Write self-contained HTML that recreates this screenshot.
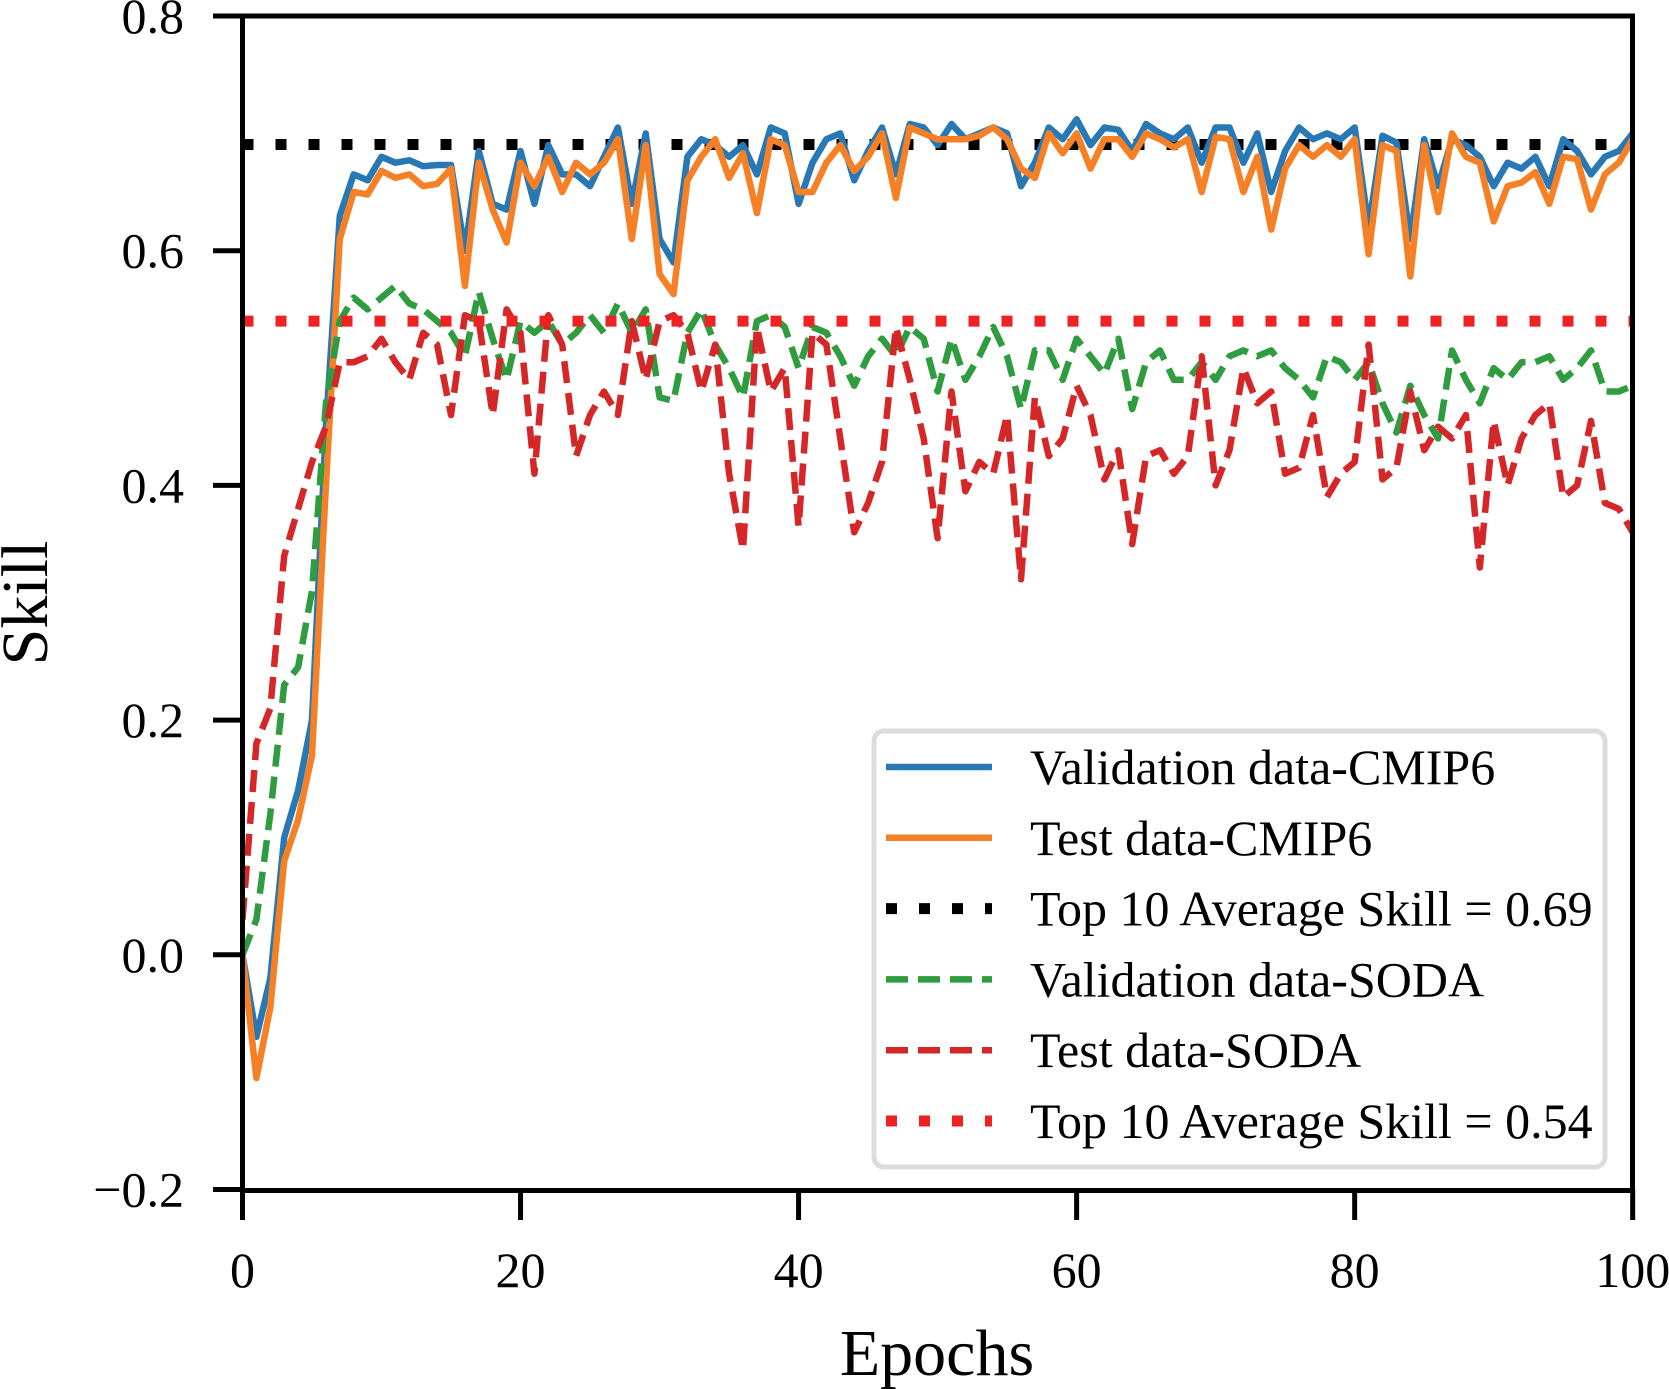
<!DOCTYPE html>
<html><head><meta charset="utf-8"><style>
html,body{margin:0;padding:0;background:#fff;overflow:hidden;width:1669px;height:1389px}
svg{display:block;font-family:"Liberation Serif",serif}
</style></head><body>
<svg id="s" width="1669" height="1389" xmlns="http://www.w3.org/2000/svg"></svg>
<script>
const X0=242.5,XS=13.902;
function X(e){return X0+e*XS}
function Y(v){return 16+(0.8-v)*1173.5}
const blue=[0.0,-0.07,-0.02,0.10,0.14,0.20,0.45,0.63,0.665,0.66,0.68,0.675,0.677,0.672,0.673,0.673,0.60,0.685,0.64,0.635,0.685,0.64,0.69,0.665,0.665,0.655,0.68,0.705,0.64,0.70,0.61,0.59,0.68,0.695,0.69,0.68,0.69,0.665,0.705,0.70,0.64,0.675,0.695,0.70,0.66,0.685,0.705,0.665,0.708,0.705,0.69,0.708,0.695,0.70,0.705,0.70,0.655,0.675,0.705,0.695,0.712,0.69,0.705,0.703,0.685,0.708,0.70,0.695,0.705,0.675,0.705,0.705,0.675,0.70,0.65,0.685,0.705,0.695,0.70,0.695,0.705,0.62,0.698,0.692,0.61,0.695,0.655,0.695,0.69,0.68,0.655,0.675,0.67,0.68,0.655,0.695,0.685,0.665,0.68,0.685,0.70];
const orange=[0.0,-0.105,-0.045,0.08,0.115,0.17,0.40,0.61,0.65,0.648,0.668,0.662,0.665,0.655,0.657,0.67,0.57,0.675,0.635,0.607,0.675,0.655,0.68,0.65,0.675,0.665,0.675,0.695,0.61,0.69,0.58,0.563,0.66,0.68,0.695,0.662,0.683,0.632,0.695,0.69,0.65,0.65,0.675,0.69,0.668,0.68,0.70,0.645,0.705,0.70,0.695,0.695,0.695,0.698,0.705,0.695,0.67,0.662,0.70,0.683,0.70,0.67,0.695,0.695,0.68,0.7,0.695,0.688,0.695,0.65,0.697,0.695,0.65,0.68,0.618,0.67,0.69,0.68,0.69,0.68,0.695,0.597,0.69,0.685,0.578,0.69,0.633,0.70,0.68,0.675,0.625,0.655,0.658,0.667,0.64,0.68,0.678,0.635,0.665,0.675,0.695];
const green=[0.0,0.03,0.12,0.23,0.245,0.31,0.47,0.54,0.56,0.55,0.56,0.57,0.555,0.55,0.54,0.53,0.51,0.565,0.525,0.49,0.54,0.53,0.54,0.52,0.53,0.545,0.53,0.555,0.53,0.55,0.475,0.472,0.53,0.55,0.52,0.5,0.475,0.54,0.545,0.535,0.5,0.535,0.53,0.51,0.485,0.51,0.525,0.51,0.535,0.525,0.48,0.525,0.49,0.51,0.535,0.51,0.465,0.515,0.515,0.49,0.525,0.51,0.495,0.525,0.465,0.505,0.515,0.49,0.49,0.505,0.49,0.51,0.515,0.51,0.515,0.5,0.49,0.475,0.51,0.505,0.49,0.505,0.47,0.445,0.485,0.46,0.44,0.515,0.49,0.47,0.5,0.49,0.505,0.505,0.51,0.49,0.5,0.515,0.48,0.48,0.485];
const red=[0.03,0.18,0.21,0.34,0.38,0.42,0.45,0.505,0.505,0.51,0.525,0.505,0.49,0.53,0.52,0.46,0.545,0.54,0.46,0.55,0.53,0.41,0.545,0.52,0.425,0.46,0.48,0.46,0.54,0.49,0.54,0.545,0.53,0.48,0.52,0.41,0.345,0.535,0.48,0.50,0.365,0.53,0.52,0.44,0.36,0.385,0.42,0.535,0.49,0.44,0.355,0.48,0.395,0.42,0.41,0.46,0.32,0.475,0.425,0.44,0.485,0.46,0.405,0.43,0.35,0.425,0.43,0.41,0.425,0.51,0.4,0.43,0.50,0.47,0.48,0.41,0.415,0.46,0.39,0.41,0.42,0.52,0.405,0.415,0.48,0.43,0.45,0.44,0.46,0.33,0.455,0.4,0.44,0.46,0.47,0.39,0.40,0.455,0.385,0.38,0.36];
let h='<defs><clipPath id="c"><rect x="242.5" y="16" width="1390" height="1174"/></clipPath></defs>';
function pl(d,col,extra){return '<polyline clip-path="url(#c)" fill="none" stroke="'+col+'" stroke-width="6.5" stroke-linejoin="round" '+extra+' points="'+d.map((v,i)=>X(i).toFixed(1)+','+Y(v).toFixed(1)).join(' ')+'"/>';}
h+='<line x1="242.5" x2="1632" y1="'+Y(0.6905)+'" y2="'+Y(0.6905)+'" stroke="#000" stroke-width="11" stroke-dasharray="11 22"/>';
h+=pl(blue,'#2878b5','');
h+=pl(orange,'#f58025','');
h+=pl(green,'#2f9c3f','stroke-dasharray="22 10" stroke-linejoin="miter"');
h+=pl(red,'#d62728','stroke-dasharray="22 10" stroke-linejoin="miter"');
h+='<line x1="242.5" x2="1632" y1="'+Y(0.54)+'" y2="'+Y(0.54)+'" stroke="#ee2222" stroke-width="11" stroke-dasharray="11 22"/>';
h+='<rect x="242.5" y="16" width="1390" height="1174.5" fill="none" stroke="#000" stroke-width="5"/>';
const yt=[[0.8,'0.8'],[0.6,'0.6'],[0.4,'0.4'],[0.2,'0.2'],[0,'0.0'],[-0.2,'\u22120.2']];
yt.forEach(([v,t])=>{const y=Y(v);h+='<line x1="213" x2="242.5" y1="'+y+'" y2="'+y+'" stroke="#000" stroke-width="5"/>';h+='<text x="184" y="'+(y+17)+'" font-size="50" text-anchor="end">'+t+'</text>';});
[0,20,40,60,80,100].forEach(e=>{const x=X(e);h+='<line x1="'+x+'" x2="'+x+'" y1="1190" y2="1220" stroke="#000" stroke-width="5"/>';h+='<text x="'+x+'" y="1287" font-size="50" text-anchor="middle">'+e+'</text>';});
h+='<text x="937" y="1375" font-size="66" text-anchor="middle">Epochs</text>';
h+='<text transform="translate(47,603) rotate(-90)" font-size="66" text-anchor="middle">Skill</text>';
h+='<rect x="874" y="731" width="731" height="436" rx="10" fill="#fff" stroke="#dcdcdc" stroke-width="5"/>';
const L=[['#2878b5','','Validation data-CMIP6',6.5],['#f58025','','Test data-CMIP6',6.5],['#000','11 22','Top 10 Average Skill = 0.69',11],['#2f9c3f','22 10','Validation data-SODA',6.5],['#d62728','22 10','Test data-SODA',6.5],['#ee2222','11 22','Top 10 Average Skill = 0.54',11]];
L.forEach((l,i)=>{const y=767+i*70.8;h+='<line x1="886" x2="992" y1="'+y+'" y2="'+y+'" stroke="'+l[0]+'" stroke-width="'+l[3]+'" '+(l[1]?'stroke-dasharray="'+l[1]+'"':'')+'/>';h+='<text x="1030" y="'+(y+17)+'" font-size="50">'+l[2]+'</text>';});
document.getElementById('s').innerHTML=h;
</script>
</body></html>
